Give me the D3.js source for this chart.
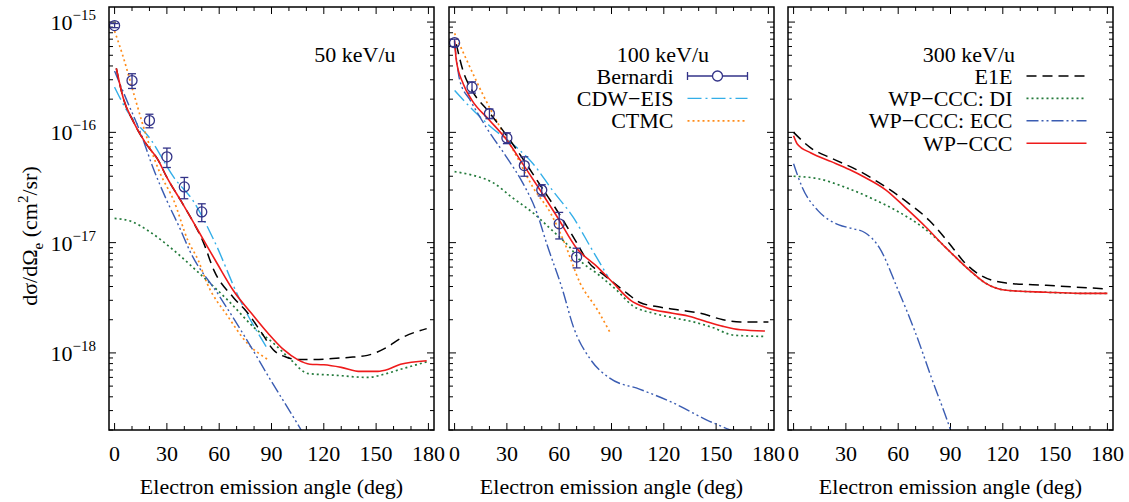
<!DOCTYPE html>
<html>
<head>
<meta charset="utf-8">
<script src="https://cdn.jsdelivr.net/npm/d3@7"></script>
<style>
  body { margin: 0; background: #fff; }
  svg text { font-family: 'Liberation Serif', Tinos, 'Times New Roman', 'DejaVu Serif', serif; }
</style>
</head>
<body>
<svg id="chart" width="1129" height="502" font-family="Liberation Serif, serif"></svg>
<script>
// ---- data (angle in deg, dσ/dΩ in cm^2/sr) ----
var energies = ["50 keV/u", "100 keV/u", "300 keV/u"];
var xTicks = [0, 30, 60, 90, 120, 150, 180];

// 50 keV/u
var wp50_x  = [1, 5, 11, 18, 25, 30, 38, 45, 51, 59, 68, 80, 88, 97, 105, 112, 120, 130, 141, 151, 157, 164, 179];
var wp50_y  = [3.8e-16, 2.04e-16, 1.23e-16, 7.9e-17, 5.6e-17, 3.9e-17, 2.4e-17, 1.55e-17, 1.06e-17, 6.4e-18, 3.7e-18, 2.14e-18, 1.51e-18, 1.07e-18, 8.7e-19, 7.9e-19, 7.8e-19, 7.4e-19, 6.8e-19, 6.8e-19, 7.1e-19, 7.9e-19, 8.5e-19];
var e1e50_x = [1, 5, 11, 18, 25, 30, 38, 45, 51, 57, 68, 76, 84, 91, 99, 105, 115, 125, 134, 145, 156, 164, 179];
var e1e50_y = [3.8e-16, 2.04e-16, 1.23e-16, 7.9e-17, 5.6e-17, 3.9e-17, 2.4e-17, 1.55e-17, 1.0e-17, 5.6e-18, 3.2e-18, 2.34e-18, 1.55e-18, 1.07e-18, 9.1e-19, 8.7e-19, 8.7e-19, 8.9e-19, 9.1e-19, 9.5e-19, 1.12e-18, 1.35e-18, 1.66e-18];
var di50_x  = [0, 10, 20, 34, 49, 65, 80, 91, 101, 111, 125, 145, 156, 164, 179];
var di50_y  = [1.66e-17, 1.55e-17, 1.26e-17, 8.5e-18, 5.2e-18, 3.0e-18, 1.70e-18, 1.23e-18, 8.7e-19, 6.5e-19, 6.3e-19, 6.0e-19, 6.5e-19, 7.1e-19, 8.3e-19];
var ecc50_x = [0, 7, 15, 22, 30, 38, 43, 60, 75, 90, 107, 115];
var ecc50_y = [3.6e-16, 1.95e-16, 9.8e-17, 4.8e-17, 2.4e-17, 1.29e-17, 8.5e-18, 3.3e-18, 1.38e-18, 5.5e-19, 2.0e-19, 1.2e-19];
var cdw50_x = [0, 7, 21, 34, 45, 57, 72, 88];
var cdw50_y = [2.57e-16, 1.58e-16, 8.5e-17, 3.9e-17, 2.4e-17, 1.05e-17, 3.0e-18, 1.07e-18];
var ctmc50_x = [0, 5, 11, 19, 26, 34, 42, 48, 53, 65, 76, 88];
var ctmc50_y = [8.3e-16, 4.8e-16, 2.24e-16, 8.5e-17, 4.3e-17, 2.4e-17, 1.05e-17, 6.9e-18, 4.3e-18, 2.14e-18, 1.23e-18, 8.7e-19];
var exp50_x = [0, 10, 20, 30, 40, 50];
var exp50_y = [9.3e-16, 2.95e-16, 1.28e-16, 6.0e-17, 3.2e-17, 1.9e-17];
var exp50_e = [4e-17, 4.5e-17, 1.8e-17, 1.2e-17, 7e-18, 3.5e-18];

// 100 keV/u
var wp100_x  = [0, 1, 5, 10, 20, 30, 39, 49, 59, 70, 82, 91, 101, 110, 125, 135, 145, 154, 164, 178];
var wp100_y  = [6.8e-16, 4.5e-16, 2.75e-16, 1.95e-16, 1.29e-16, 8.5e-17, 5.2e-17, 3.0e-17, 1.70e-17, 8.9e-18, 6.0e-18, 4.3e-18, 3.0e-18, 2.57e-18, 2.29e-18, 2.14e-18, 1.91e-18, 1.74e-18, 1.62e-18, 1.58e-18];
var e1e100_x = [1, 5, 10, 20, 30, 40, 50, 60, 70, 76, 87, 99, 106, 116, 129, 141, 154, 164, 180];
var e1e100_y = [6.3e-16, 3.55e-16, 2.4e-16, 1.51e-16, 9.3e-17, 5.5e-17, 3.16e-17, 1.82e-17, 1.0e-17, 6.9e-18, 4.9e-18, 3.47e-18, 2.88e-18, 2.63e-18, 2.45e-18, 2.29e-18, 2.0e-18, 1.91e-18, 1.91e-18];
var di100_x  = [0, 10, 22, 33, 45, 56, 66, 72, 82, 93, 102, 114, 125, 137, 148, 160, 178];
var di100_y  = [4.4e-17, 4.1e-17, 3.5e-17, 2.57e-17, 1.86e-17, 1.29e-17, 9.1e-18, 6.9e-18, 5.2e-18, 3.7e-18, 2.69e-18, 2.29e-18, 2.09e-18, 1.91e-18, 1.70e-18, 1.45e-18, 1.41e-18];
var ecc100_x = [0, 3, 9, 18, 30, 39, 47, 53, 62, 68, 78, 89, 106, 125, 145, 158, 165];
var ecc100_y = [6.5e-16, 2.95e-16, 1.95e-16, 1.12e-16, 5.9e-17, 3.5e-17, 1.9e-17, 9.6e-18, 3.7e-18, 1.75e-18, 8.7e-19, 5.9e-19, 4.7e-19, 3.55e-19, 2.45e-19, 2.0e-19, 1.78e-19];
var cdw100_x = [0, 7, 20, 36, 45, 56, 68, 78, 88];
var cdw100_y = [2.4e-16, 1.82e-16, 1.15e-16, 7.2e-17, 5.2e-17, 3.0e-17, 1.70e-17, 9.1e-18, 4.9e-18];
var ctmc100_x = [0, 7, 16, 26, 36, 45, 55, 63, 72, 82, 89];
var ctmc100_y = [7.9e-16, 4.5e-16, 2.24e-16, 1.12e-16, 5.9e-17, 3.16e-17, 1.86e-17, 1.0e-17, 4.3e-18, 2.45e-18, 1.55e-18];
var exp100_x = [0, 10, 20, 30, 40, 50, 60, 70];
var exp100_y = [6.5e-16, 2.57e-16, 1.48e-16, 8.9e-17, 5.0e-17, 3.0e-17, 1.48e-17, 7.4e-18];
var exp100_e = [5e-17, 3e-17, 1.5e-17, 1.0e-17, 1.0e-17, 3.5e-18, 4e-18, 1.5e-18];

// 300 keV/u
var wp300_x  = [0, 2, 10, 22, 32, 41, 53, 64, 76, 87, 91, 101, 110, 122, 145, 164, 180];
var wp300_y  = [9.3e-17, 7.9e-17, 6.5e-17, 5.4e-17, 4.6e-17, 3.9e-17, 3.0e-17, 2.09e-17, 1.38e-17, 9.1e-18, 7.9e-18, 5.6e-18, 4.3e-18, 3.7e-18, 3.55e-18, 3.47e-18, 3.47e-18];
var e1e300_x = [0, 10, 22, 36, 49, 64, 78, 91, 97, 106, 122, 145, 180];
var e1e300_y = [1.0e-16, 7.2e-17, 5.8e-17, 4.6e-17, 3.5e-17, 2.4e-17, 1.58e-17, 9.1e-18, 6.9e-18, 5.2e-18, 4.3e-18, 4.1e-18, 3.8e-18];
var di300_x  = [0, 14, 30, 45, 60, 74, 83, 91, 101, 110, 122, 145, 164, 180];
var di300_y  = [4.0e-17, 3.8e-17, 3.16e-17, 2.51e-17, 1.91e-17, 1.38e-17, 1.05e-17, 7.9e-18, 5.6e-18, 4.3e-18, 3.7e-18, 3.55e-18, 3.47e-18, 3.47e-18];
var ecc300_x = [0, 5, 14, 26, 33, 41, 49, 60, 70, 79, 90, 95];
var ecc300_y = [5.2e-17, 3.16e-17, 1.95e-17, 1.45e-17, 1.35e-17, 1.23e-17, 9.1e-18, 3.7e-18, 1.51e-18, 6.0e-19, 2.0e-19, 1.12e-19];

// ---- styles ----
var styles = {
  cdw:  { color: "#33aee8", dash: "14,4,2,4", width: 1.4, label: "CDW\u2212EIS" },
  ctmc: { color: "#ff8c1a", dash: "2,3", width: 1.7, label: "CTMC" },
  di:   { color: "#237a3b", dash: "2,3", width: 1.7, label: "WP\u2212CCC: DI" },
  ecc:  { color: "#3a5cb2", dash: "12,3,2,3,2,3", width: 1.4, label: "WP\u2212CCC: ECC" },
  e1e:  { color: "#000000", dash: "10,6", width: 1.5, label: "E1E" },
  wp:   { color: "#ee1b1b", dash: null, width: 1.6, label: "WP\u2212CCC" }
};
var expColor = "#333388";
var serif = "'Liberation Serif', Tinos, 'Times New Roman', 'DejaVu Serif', serif";

function zip(xs, ys) { return xs.map(function(d, i) { return [d, ys[i]]; }); }

var panels = [
  { left: 109, title: energies[0], titleX: 246, showY: true,
    series: [["cdw", zip(cdw50_x, cdw50_y)], ["ctmc", zip(ctmc50_x, ctmc50_y)], ["di", zip(di50_x, di50_y)],
             ["ecc", zip(ecc50_x, ecc50_y)], ["e1e", zip(e1e50_x, e1e50_y)], ["wp", zip(wp50_x, wp50_y)]],
    exp: { x: exp50_x, y: exp50_y, e: exp50_e }, legend: [] },
  { left: 449, title: energies[1], titleX: 214, showY: false,
    series: [["cdw", zip(cdw100_x, cdw100_y)], ["ctmc", zip(ctmc100_x, ctmc100_y)], ["di", zip(di100_x, di100_y)],
             ["ecc", zip(ecc100_x, ecc100_y)], ["e1e", zip(e1e100_x, e1e100_y)], ["wp", zip(wp100_x, wp100_y)]],
    exp: { x: exp100_x, y: exp100_y, e: exp100_e }, legend: ["exp", "cdw", "ctmc"] },
  { left: 788, title: energies[2], titleX: 181, showY: false,
    series: [["di", zip(di300_x, di300_y)], ["ecc", zip(ecc300_x, ecc300_y)], ["e1e", zip(e1e300_x, e1e300_y)],
             ["wp", zip(wp300_x, wp300_y)]],
    exp: null, legend: ["e1e", "di", "ecc", "wp"] }
];

var svg = d3.select("#chart");
var plotTop = 7, pw = 325, ph = 423;

var x = d3.scaleLinear().domain([-3.2, 183.2]).range([0, pw]);
var y = d3.scaleLog().domain([2e-19, 1.37e-15]).range([ph, 0]);

var line = d3.line()
  .x(function(d) { return x(d[0]); })
  .y(function(d) { return y(d[1]); })
  .curve(d3.curveMonotoneX);

var minorX = d3.range(0, 181, 10);
var yTicks = y.ticks();
function isDecade(v) { var l = Math.log10(v); return Math.abs(l - Math.round(l)) < 1e-6; }

function label(sel) {
  return sel.append("text").attr("font-family", serif).style("font-family", serif).style("font-size", "22px");
}

panels.forEach(function(p, pi) {
  var g = svg.append("g").attr("transform", "translate(" + p.left + "," + plotTop + ")");

  g.append("clipPath").attr("id", "clip" + pi)
    .append("rect").attr("width", pw).attr("height", ph);

  // ticks (inward, all four sides)
  var tk = g.append("g").attr("stroke", "#000").attr("stroke-width", 1);
  minorX.forEach(function(v) {
    var len = (v % 30 === 0) ? 7 : 4;
    tk.append("line").attr("x1", x(v)).attr("x2", x(v)).attr("y1", ph).attr("y2", ph - len);
    tk.append("line").attr("x1", x(v)).attr("x2", x(v)).attr("y1", 0).attr("y2", len);
  });
  yTicks.forEach(function(v) {
    var len = isDecade(v) ? 7 : 4;
    tk.append("line").attr("x1", 0).attr("x2", len).attr("y1", y(v)).attr("y2", y(v));
    tk.append("line").attr("x1", pw).attr("x2", pw - len).attr("y1", y(v)).attr("y2", y(v));
  });

  // x tick labels
  xTicks.forEach(function(d) {
    label(g).attr("x", x(d)).attr("y", 454).attr("text-anchor", "middle").text(d);
  });

  label(g).attr("x", pw / 2).attr("y", 487).attr("text-anchor", "middle")
    .text("Electron emission angle (deg)");

  // y tick labels (first panel only)
  if (p.showY) {
    yTicks.filter(isDecade).forEach(function(v) {
      var t = label(g).attr("x", -13).attr("y", y(v) + 8).attr("text-anchor", "end");
      t.append("tspan").text("10");
      t.append("tspan").attr("dy", -10).style("font-size", "15px")
        .text("\u2212" + Math.abs(Math.round(Math.log10(v))));
    });
  }

  // curves
  var plot = g.append("g").attr("clip-path", "url(#clip" + pi + ")");
  p.series.forEach(function(s) {
    var st = styles[s[0]];
    plot.append("path")
      .datum(s[1])
      .attr("d", line)
      .attr("fill", "none")
      .attr("stroke", st.color)
      .attr("stroke-width", st.width)
      .attr("stroke-dasharray", st.dash);
  });

  // Bernardi data
  if (p.exp) {
    var pts = p.exp.x.map(function(d, i) { return { a: d, v: p.exp.y[i], e: p.exp.e[i] }; });
    var eg = plot.append("g").attr("stroke", expColor).attr("stroke-width", 1.3).attr("fill", "none");
    pts.forEach(function(d) {
      var cx = x(d.a), y1 = y(d.v + d.e), y2 = y(d.v - d.e);
      eg.append("line").attr("x1", cx).attr("x2", cx).attr("y1", y1).attr("y2", y2);
      eg.append("line").attr("x1", cx - 4).attr("x2", cx + 4).attr("y1", y1).attr("y2", y1);
      eg.append("line").attr("x1", cx - 4).attr("x2", cx + 4).attr("y1", y2).attr("y2", y2);
      eg.append("circle").attr("cx", cx).attr("cy", y(d.v)).attr("r", 5);
    });
  }

  // frame
  g.append("rect")
    .attr("width", pw).attr("height", ph)
    .attr("fill", "none").attr("stroke", "#000").attr("stroke-width", 1.5);

  // legend
  label(g).attr("x", p.titleX).attr("y", 54.5).attr("text-anchor", "middle").text(p.title);

  p.legend.forEach(function(k, i) {
    var by = 76.5 + 22.4 * i, ly = by - 7.5;
    label(g).attr("x", 224.5).attr("y", by).attr("text-anchor", "end")
      .text(k === "exp" ? "Bernardi" : styles[k].label);
    if (k === "exp") {
      var lg = g.append("g").attr("stroke", expColor).attr("stroke-width", 1.3);
      lg.append("line").attr("x1", 238.5).attr("x2", 298.5).attr("y1", ly).attr("y2", ly);
      lg.append("line").attr("x1", 238.5).attr("x2", 238.5).attr("y1", ly - 4).attr("y2", ly + 4);
      lg.append("line").attr("x1", 298.5).attr("x2", 298.5).attr("y1", ly - 4).attr("y2", ly + 4);
      lg.append("circle").attr("cx", 268.5).attr("cy", ly).attr("r", 5).attr("fill", "#fff");
    } else {
      var st = styles[k];
      g.append("line")
        .attr("x1", 238.5).attr("x2", 298.5).attr("y1", ly).attr("y2", ly)
        .attr("stroke", st.color).attr("stroke-width", st.width)
        .attr("stroke-dasharray", st.dash);
    }
  });
});

// y axis title
var yt = label(svg)
  .attr("transform", "translate(37,236) rotate(-90)")
  .attr("text-anchor", "middle");
yt.append("tspan").text("d\u03c3/d\u03a9");
yt.append("tspan").attr("dy", 6).style("font-size", "15px").text("e");
yt.append("tspan").attr("dy", -6).text(" (cm");
yt.append("tspan").attr("dy", -9).style("font-size", "15px").text("2");
yt.append("tspan").attr("dy", 9).text("/sr)");
</script>
</body>
</html>
